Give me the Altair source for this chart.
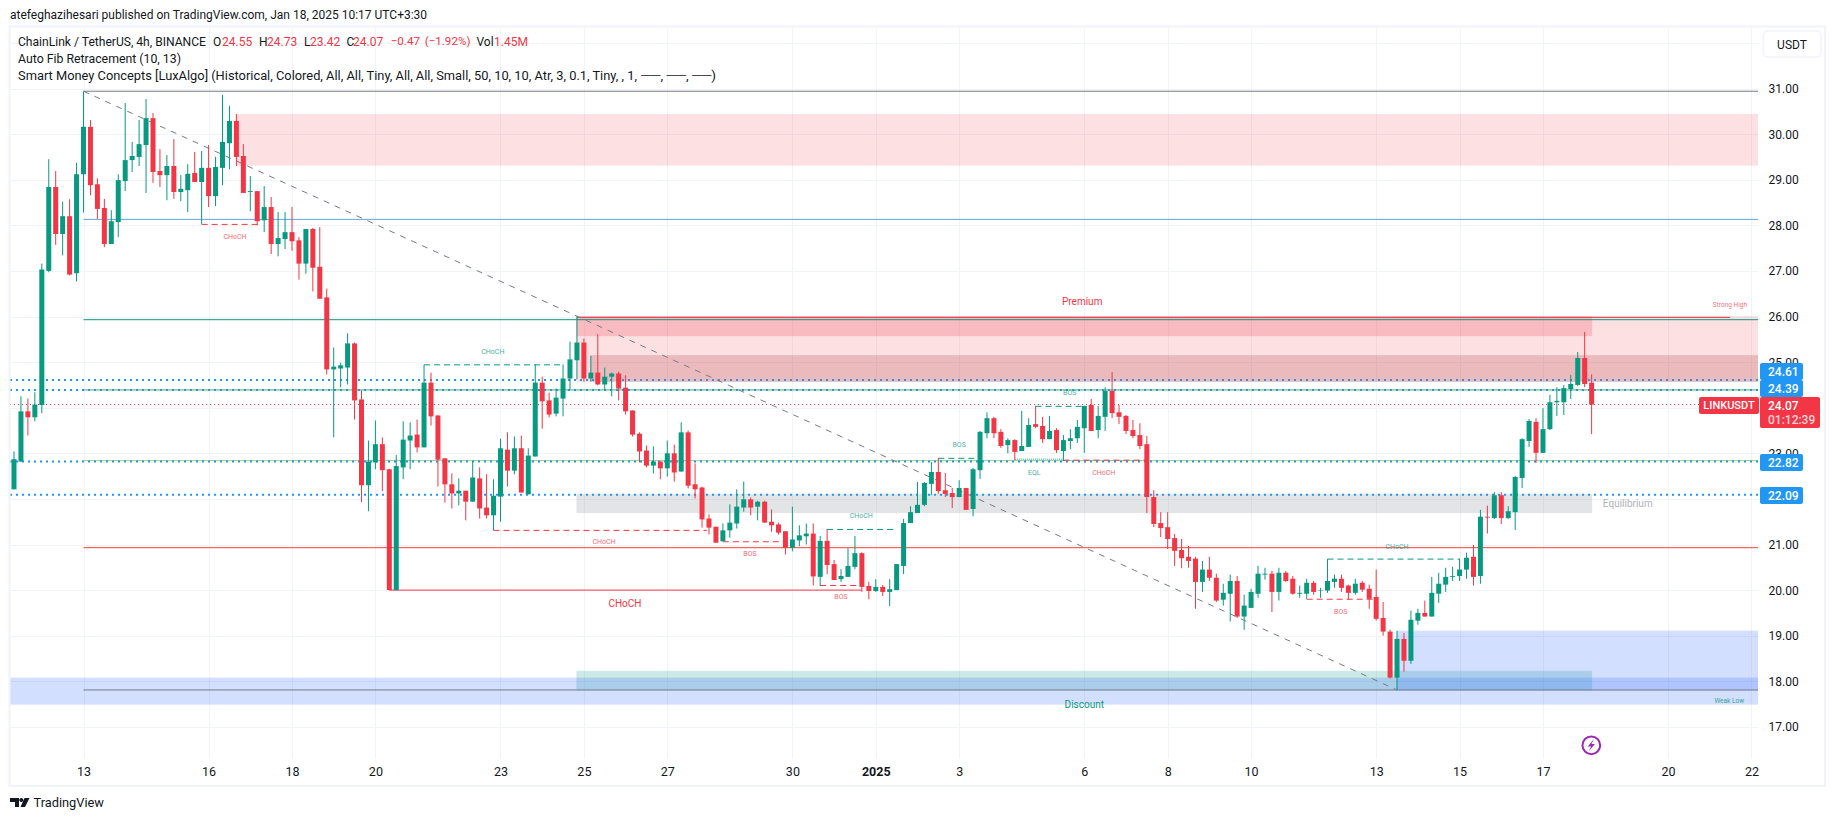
import altair as alt
import pandas as pd

opens = [22.21,22.82,23.92,23.79,24.06,27.00,28.84,27.81,28.20,26.95,
29.12,30.16,28.90,28.38,27.59,28.07,28.97,29.43,29.50,29.76,
30.35,29.19,29.10,29.30,28.73,28.77,29.15,28.95,29.26,28.64,
29.26,29.80,30.29,29.52,28.73,28.75,28.11,28.40,27.59,27.70,
27.85,27.67,27.16,27.92,27.09,26.42,24.84,24.86,24.88,25.41,
24.18,22.30,22.80,23.20,22.65,20.00,22.69,23.28,23.41,23.13,
24.55,23.83,22.89,22.32,22.12,22.18,21.94,22.45,21.81,21.64,
22.05,23.08,22.62,23.11,22.10,22.93,24.55,24.16,23.87,24.20,
24.64,25.04,25.43,24.64,24.77,24.51,24.68,24.75,24.44,23.94,
23.43,23.06,22.73,22.82,22.67,23.00,22.60,23.46,22.32,22.25,
21.57,21.39,21.07,21.31,21.46,21.81,21.99,21.83,21.94,21.50,
21.44,21.29,20.93,21.09,21.18,21.24,20.29,21.08,20.57,20.24,
20.29,20.51,20.81,20.09,19.98,20.07,19.96,20.00,20.53,21.47,
21.69,21.87,22.33,22.59,22.19,22.13,22.04,22.24,21.78,22.63,
23.44,23.77,23.47,23.18,23.29,23.05,23.14,23.64,23.60,23.31,
23.51,23.05,23.27,23.33,23.55,24.06,23.51,23.80,24.37,23.90,
23.82,23.51,23.40,23.20,22.04,21.47,21.38,21.14,20.88,20.73,
20.69,20.18,20.45,20.27,19.79,19.92,20.20,19.42,19.61,19.92,
20.34,20.36,19.96,20.38,20.25,19.92,19.92,20.16,19.99,19.99,
20.18,20.25,20.10,19.94,20.16,20.03,19.85,19.39,19.09,18.08,
18.93,18.45,19.33,19.50,19.42,19.92,20.12,20.29,20.31,20.45,
20.73,20.31,21.61,21.58,22.08,21.58,21.71,22.46,23.27,23.69,
23.01,23.53,24.12,24.12,24.41,24.50,25.09,24.55]

highs = [23.04,24.25,24.20,24.34,27.16,29.45,29.19,28.52,28.57,29.37,
30.93,30.31,29.03,28.58,28.33,29.12,30.68,29.83,30.31,30.77,
30.46,29.67,29.54,29.89,29.10,29.34,29.61,29.63,29.76,29.50,
30.86,30.62,30.44,29.78,29.08,28.75,28.86,28.62,28.29,28.29,
28.40,27.74,27.92,27.94,27.96,26.61,25.32,24.99,25.63,25.43,
24.38,23.28,23.72,23.35,22.66,22.96,23.70,23.68,23.74,24.94,
24.77,23.83,22.89,22.56,22.45,22.18,22.82,22.69,22.54,22.43,
23.32,23.46,23.37,23.39,23.11,24.95,24.68,24.33,24.42,24.95,
25.45,26.00,25.52,25.14,25.61,24.88,24.77,24.79,24.71,23.94,
23.46,23.17,23.15,22.82,23.28,23.19,23.68,23.50,22.78,22.27,
21.66,21.39,21.46,21.88,22.21,22.38,22.03,21.96,21.96,21.77,
21.48,21.29,21.83,21.42,21.46,21.46,21.19,21.34,20.66,20.46,
20.92,21.19,20.83,20.18,20.24,20.11,20.24,20.57,21.56,21.84,
22.37,22.37,22.81,22.90,22.57,22.24,22.41,22.24,22.68,23.49,
23.90,23.80,23.53,23.33,23.31,23.93,23.77,24.04,23.80,23.82,
23.55,23.40,23.53,23.73,24.04,24.19,24.04,24.45,24.78,24.06,
23.84,23.73,23.66,23.38,22.19,21.71,21.71,21.23,21.12,20.97,
20.73,20.64,20.73,20.36,20.14,20.34,20.31,19.90,20.03,20.53,
20.49,20.42,20.49,20.42,20.31,20.10,20.25,20.20,20.05,20.68,
20.34,20.34,20.12,20.25,20.20,20.12,20.45,19.74,19.13,19.11,
19.06,19.55,19.59,19.77,20.29,20.38,20.49,20.51,20.69,20.82,
20.99,21.76,21.85,22.15,22.15,21.84,22.50,23.33,23.75,23.77,
23.99,24.28,24.45,24.50,24.72,25.22,25.66,24.73]

lows = [22.21,22.81,23.39,23.70,23.88,26.97,27.57,27.34,26.90,26.77,
28.28,28.66,28.14,27.52,27.59,27.74,28.75,29.17,29.30,28.71,
28.93,28.84,28.55,28.58,28.53,28.29,28.95,28.03,28.40,28.42,
28.88,29.23,29.30,28.71,28.31,28.00,27.85,27.37,27.32,27.48,
27.44,26.81,26.94,26.55,26.39,24.73,23.35,24.45,24.51,23.74,
21.93,21.73,22.65,22.17,20.00,20.00,22.43,22.65,23.02,23.13,
23.61,22.27,21.92,21.79,21.86,21.53,21.94,21.57,21.57,21.31,
21.50,22.27,22.54,22.14,22.10,22.93,23.54,23.79,23.81,23.81,
24.40,24.62,24.57,24.57,24.49,24.40,24.25,24.16,23.85,23.37,
22.80,22.69,22.56,22.43,22.49,22.38,22.60,22.23,22.01,21.37,
21.22,21.04,21.07,21.15,21.35,21.72,21.64,21.53,21.48,21.28,
21.22,20.78,20.85,20.96,21.00,20.10,20.09,20.35,20.22,20.18,
20.29,20.46,19.96,19.80,19.96,19.87,19.65,20.00,20.35,21.47,
21.69,21.84,22.08,22.11,22.04,21.80,22.04,21.76,21.62,22.44,
23.33,23.33,23.12,23.00,22.85,23.05,23.14,23.55,23.23,23.31,
23.01,22.83,23.09,23.23,23.01,23.49,23.33,23.49,23.77,23.64,
23.42,23.33,23.09,21.69,21.38,21.16,20.90,20.53,20.48,20.49,
19.59,19.96,20.20,19.74,19.66,19.31,19.39,19.13,19.61,19.83,
20.23,19.52,19.77,20.18,19.90,19.83,19.81,19.90,19.83,19.94,
20.05,19.96,19.79,19.90,19.96,19.59,19.33,19.00,18.06,17.81,
18.21,18.38,19.24,19.42,19.42,19.72,19.96,20.20,20.20,20.25,
20.10,20.14,21.24,21.56,21.45,21.56,21.32,22.24,23.14,22.79,
23.01,23.51,23.82,23.84,24.19,24.48,24.45,23.42]

closes = [22.87,23.92,23.79,24.07,27.03,28.84,27.81,28.20,26.92,29.12,
30.16,28.88,28.36,27.59,28.09,28.99,29.43,29.52,29.78,30.35,
29.17,29.10,29.30,28.73,28.80,29.13,28.95,29.26,28.64,29.28,
29.83,30.29,29.50,28.71,28.75,28.09,28.40,27.59,27.72,27.85,
27.65,27.16,27.92,27.07,26.39,24.84,24.90,24.93,25.41,24.16,
22.30,22.82,23.20,22.63,20.00,22.72,23.30,23.39,23.13,24.55,
23.81,22.86,22.32,22.12,22.18,21.94,22.47,21.79,21.64,22.07,
23.11,22.62,23.11,22.14,22.95,24.55,24.14,23.85,24.22,24.64,
25.06,25.43,24.64,24.77,24.51,24.68,24.75,24.42,23.92,23.41,
23.04,22.73,22.82,22.67,23.00,22.58,23.46,22.29,22.21,21.55,
21.37,21.04,21.31,21.48,21.83,21.99,21.81,21.94,21.48,21.42,
21.26,20.93,21.11,21.20,21.24,20.30,21.08,20.55,20.22,20.31,
20.53,20.81,20.07,19.98,20.07,19.96,20.02,20.57,21.47,21.71,
21.87,22.35,22.59,22.17,22.11,22.04,22.24,21.76,22.65,23.47,
23.77,23.44,23.16,23.29,23.03,23.16,23.62,23.58,23.31,23.49,
23.07,23.29,23.33,23.58,24.04,23.49,23.82,24.37,23.88,23.80,
23.49,23.38,23.16,22.04,21.45,21.36,21.12,20.86,20.70,20.64,
20.18,20.45,20.27,19.77,19.94,20.20,19.42,19.66,19.96,20.36,
20.36,19.96,20.38,20.20,19.92,19.94,20.16,19.96,20.00,20.20,
20.25,20.05,19.94,20.14,20.01,19.81,19.37,19.09,18.08,18.93,
18.45,19.35,19.50,19.42,19.94,20.14,20.29,20.31,20.45,20.71,
20.29,21.61,21.59,22.08,21.58,21.73,22.48,23.31,23.71,23.01,
23.53,24.12,24.15,24.43,24.52,25.09,24.52,24.07]

tick_index = [10,28,40,52,70,82,94,112,124,136,154,166,178,196,208,220,238,250]
tick_labels = ["13","16","18","20","23","25","27","30","2025","3","6","8","10","13","15","17","20","22"]
price_ticks = [17,18,19,20,21,22,23,24,25,26,27,28,29,30,31,32]

I_MIN, I_MAX = -0.576, 250.94
P_TOP, P_BOTTOM = 32.327, 16.318

GREEN, RED = "#089981", "#f23645"
PLOT_W, PLOT_H = 1748, 730
ORIGIN_X, ORIGIN_Y = 10, 28
FONT = "Roboto"

# zones drawn in order: start bar, end bar, upper price, lower price, colour, opacity
zone_start = [81, 81, 83, 81, 81, I_MIN, 199, 32]
zone_end = [I_MAX, 227, I_MAX, 227, 227, I_MAX, I_MAX, I_MAX]
zone_upper = [26.00, 26.00, 25.14, 22.10, 18.22, 18.07, 19.10, 30.43]
zone_lower = [24.58, 25.58, 24.58, 21.70, 17.81, 17.50, 17.81, 29.32]
zone_color = [RED, RED, "#a82830", "#787b86", GREEN, "#2962ff", "#2962ff", RED]
zone_alpha = [0.15, 0.21, 0.20, 0.20, 0.20, 0.20, 0.20, 0.15]

# solid levels
level_start = [10, 10, 10, 10, 10, 10, 10, 81, 54]
level_end = [I_MAX, I_MAX, I_MAX, I_MAX, I_MAX, I_MAX, I_MAX, 246.9, 122]
level_price = [30.94, 28.13, 25.93, 24.39, 22.84, 20.93, 17.81, 25.98, 20.00]
level_color = ["#787b86", "#64a5e0", GREEN, "#4caf50", "#9ccc8f", "#f44336", "#787b86", RED, RED]

# dotted horizontal price lines
dotted_prices = [24.61, 24.39, 22.82, 22.09]
last_price = [24.07]

# dashed structure breaks, bearish and bullish
red_break_start = [27, 69, 102, 116, 151, 186]
red_break_end = [35, 99.7, 110.7, 121.7, 163, 195.5]
red_break_price = [28.02, 21.31, 21.06, 20.10, 22.85, 19.80]
green_break_start = [59, 117, 133, 147, 189]
green_break_end = [79, 127, 138.6, 153.8, 208]
green_break_price = [24.94, 21.33, 22.89, 24.03, 20.68]

eql_start, eql_end, eql_price = [144], [151], [22.87]
diag_i, diag_i2, diag_p, diag_p2 = [10], [199], [30.94], [17.81]

# labels in the plot
note_text = ["CHoCH","CHoCH","CHoCH","BOS","CHoCH","CHoCH","BOS","BOS","BOS","EQL","CHoCH","CHoCH","BOS",
             "Premium","Equilibrium","Discount","Strong High","Weak Low"]
note_i = [31.8,68.9,84.9,105.9,87.9,121.9,119,136,151.9,146.8,156.8,199,190.9,153.7,232.2,154,246.9,246.8]
note_p = [27.75,25.22,21.06,20.79,19.69,21.63,19.85,23.18,24.32,22.57,22.57,20.95,19.52,26.32,21.89,17.48,26.26,17.56]
note_color = [RED,GREEN,RED,RED,RED,GREEN,RED,GREEN,GREEN,GREEN,RED,GREEN,RED,RED,"#9598a1",GREEN,RED,GREEN]
note_size = [7,7,7,7,10,7,7,7,7,7,7,7,7,10,10,10,6.5,6.5]
note_alpha = [.75,.75,.75,.75,1,.75,.75,.75,.75,.75,.75,.75,.75,1,.75,1,.7,.8]

x_scale = alt.Scale(domain=[I_MIN, I_MAX], nice=False, zero=False, padding=0)
y_scale = alt.Scale(domain=[P_BOTTOM, P_TOP], nice=False, zero=False, padding=0)
ticks_js = "[" + ",".join(map(str, tick_index)) + "]"
labels_js = "[" + ",".join("'%s'" % t for t in tick_labels) + "]"
x_axis = alt.Axis(values=tick_index, labelExpr=f"{labels_js}[indexof({ticks_js},datum.value)]",
                  title=None, domain=False, ticks=False, grid=True, gridColor="#f0f3fa",
                  labelFont=FONT, labelFontSize=12.5, labelColor="#131722", labelPadding=7,
                  labelOverlap=False, labelFlush=False,
                  labelFontWeight=alt.expr("datum.value == 124 ? 'bold' : 'normal'"))
y_axis = alt.Axis(values=price_ticks, orient="right", format=".2f", title=None, domain=False, ticks=False,
                  grid=True, gridColor="#f0f3fa", labelFont=FONT, labelFontSize=12, labelColor="#131722",
                  labelPadding=10, labelOverlap=False, labelFlush=False, labelAlign="left")


def X(f):
    return alt.X(f, type="quantitative", scale=x_scale, axis=x_axis)


def Y(f):
    return alt.Y(f, type="quantitative", scale=y_scale, axis=y_axis)


layers = []

zones = pd.DataFrame(dict(a=zone_start, b=zone_end, u=zone_upper, l=zone_lower, c=zone_color, o=zone_alpha))
layers.append(alt.Chart(zones).mark_rect(strokeWidth=1, clip=True).encode(
    x=X("a"), x2="b", y=Y("u"), y2="l",
    fill=alt.Fill("c:N", scale=None), stroke=alt.Stroke("c:N", scale=None),
    opacity=alt.Opacity("o:Q", scale=None), order=alt.Order("n:Q")).transform_window(n="row_number()"))

levels = pd.DataFrame(dict(a=level_start, b=level_end, p=level_price, c=level_color))
layers.append(alt.Chart(levels).mark_rule(strokeWidth=1).encode(
    x=X("a"), x2="b", y=Y("p"), color=alt.Color("c:N", scale=None)))

dots = pd.DataFrame(dict(p=dotted_prices, a=I_MIN, b=I_MAX))
layers.append(alt.Chart(dots).mark_rule(strokeWidth=2, strokeDash=[2, 4], color="#2196f3").encode(
    x=X("a"), x2="b", y=Y("p")))
last = pd.DataFrame(dict(p=last_price, a=I_MIN, b=I_MAX))
layers.append(alt.Chart(last).mark_rule(strokeWidth=1, strokeDash=[1, 3], color=RED).encode(
    x=X("a"), x2="b", y=Y("p")))

red_breaks = pd.DataFrame(dict(a=red_break_start, b=red_break_end, p=red_break_price))
layers.append(alt.Chart(red_breaks).mark_rule(strokeWidth=1, strokeDash=[6, 4], color=RED).encode(
    x=X("a"), x2="b", y=Y("p")))
green_breaks = pd.DataFrame(dict(a=green_break_start, b=green_break_end, p=green_break_price))
layers.append(alt.Chart(green_breaks).mark_rule(strokeWidth=1, strokeDash=[6, 4], color=GREEN).encode(
    x=X("a"), x2="b", y=Y("p")))
eql = pd.DataFrame(dict(a=eql_start, b=eql_end, p=eql_price))
layers.append(alt.Chart(eql).mark_rule(strokeWidth=1.5, strokeDash=[1, 1], color=GREEN, opacity=0.6).encode(
    x=X("a"), x2="b", y=Y("p")))
diag = pd.DataFrame(dict(a=diag_i, b=diag_i2, p=diag_p, q=diag_p2))
layers.append(alt.Chart(diag).mark_rule(strokeWidth=1, strokeDash=[6, 6], color="#787b86").encode(
    x=X("a"), x2="b", y=Y("p"), y2="q"))

bars = pd.DataFrame(dict(i=range(len(opens)), o=opens, h=highs, l=lows, c=closes))
bars["col"] = [GREEN if c >= o else RED for o, c in zip(opens, closes)]
layers.append(alt.Chart(bars).mark_rule(strokeWidth=1).encode(
    x=X("i"), y=Y("l"), y2="h", color=alt.Color("col:N", scale=None)))
layers.append(alt.Chart(bars).mark_bar(size=5).encode(
    x=X("i"), y=Y("o"), y2="c", color=alt.Color("col:N", scale=None)))

notes = pd.DataFrame(dict(t=note_text, i=note_i, p=note_p, c=note_color, s=note_size, o=note_alpha))
layers.append(alt.Chart(notes).mark_text(font=FONT, baseline="middle", align="center").encode(
    x=X("i"), y=Y("p"), text="t:N", color=alt.Color("c:N", scale=None),
    size=alt.Size("s:Q", scale=None), opacity=alt.Opacity("o:Q", scale=None)))

one = pd.DataFrame({"k": [0]})


def box(x0, x1, y0, y1, fill="transparent", stroke="transparent", sw=0, radius=0):
    return alt.Chart(one).mark_rect(fill=fill, stroke=stroke, strokeWidth=sw, cornerRadius=radius, clip=False).encode(
        x=alt.value(x0 - ORIGIN_X), x2=alt.value(x1 - ORIGIN_X),
        y=alt.value(y0 - ORIGIN_Y), y2=alt.value(y1 - ORIGIN_Y))


def label(text, x, y, color="#131722", size=12, align="left", weight="normal"):
    return alt.Chart(one).mark_text(text=text, font=FONT, fontSize=size, color=color, align=align,
                                    baseline="middle", fontWeight=weight, clip=False).encode(
        x=alt.value(x - ORIGIN_X), y=alt.value(y - ORIGIN_Y))


def icon(path, x, y, size, fill="transparent", stroke="transparent", sw=0):
    return alt.Chart(one).mark_point(shape=path, size=size, fill=fill, stroke=stroke, strokeWidth=sw,
                                     opacity=1, filled=fill != "transparent").encode(
        x=alt.value(x - ORIGIN_X), y=alt.value(y - ORIGIN_Y))


BLUE = "#2196f3"
layers += [
    box(9.5, 1825, 26.5, 786, stroke="#f0f3fa", sw=2),
    box(1763.5, 1821, 31, 57, fill="#ffffff", stroke="#f0f3fa", sw=1.5, radius=4),
    label("USDT", 1792, 44.5, align="center", size=12),
    box(1760, 1803, 363, 380, fill=BLUE, radius=2),
    label("24.61", 1768, 372, "#ffffff", 12, weight=500),
    box(1760, 1803, 380, 397, fill=BLUE, radius=2),
    label("24.39", 1768, 389, "#ffffff", 12, weight=500),
    box(1699, 1759, 397, 414, fill=RED, radius=2),
    label("LINKUSDT", 1729, 405.5, "#ffffff", 11, "center", 500),
    box(1760, 1820, 397, 428, fill=RED, radius=2),
    label("24.07", 1768, 405.5, "#ffffff", 12, weight=500),
    label("01:12:39", 1768, 420, "#fcd5d8", 12, weight=500),
    box(1760, 1803, 454, 471, fill=BLUE, radius=2),
    label("22.82", 1768, 462.5, "#ffffff", 12, weight=500),
    box(1760, 1803, 487, 504, fill=BLUE, radius=2),
    label("22.09", 1768, 495.5, "#ffffff", 12, weight=500),
    label("atefeghazihesari published on TradingView.com, Jan 18, 2025 10:17 UTC+3:30", 10, 15, size=12),
    label("ChainLink / TetherUS, 4h, BINANCE", 18, 42, size=12.1),
    label("O", 213, 42), label("24.55", 222, 42, RED),
    label("H", 259, 42), label("24.73", 267, 42, RED),
    label("L", 304, 42), label("23.42", 310, 42, RED),
    label("C", 346.5, 42), label("24.07", 353, 42, RED),
    label("\u22120.47", 390.7, 42, RED, 11.6),
    label("(\u22121.92%)", 424.7, 42, RED, 11.6),
    label("Vol", 476.5, 42), label("1.45M", 494, 42, RED),
    label("Auto Fib Retracement (10, 13)", 18, 59, size=12.3),
    label("Smart Money Concepts [LuxAlgo] (Historical, Colored, All, All, Tiny, All, All, Small, 50, 10, 10, "
          "Atr, 3, 0.1, Tiny, , 1,", 18, 76, size=12.85),
    label("\u2500\u2500, \u2500\u2500, \u2500\u2500)", 641, 76, size=13.7),
    icon("circle", 1591.3, 745.3, 314, stroke="#9c27b0", sw=2),
    icon("M0.3,-0.7 L-0.4,0.14 L-0.02,0.14 L-0.3,0.7 L0.4,-0.14 L0.02,-0.14 Z", 1591.3, 745.3, 314,
         fill="#9c27b0"),
    icon("M-.95,-.45 L-.05,-.45 L-.05,.45 L-.45,.45 L-.45,-.05 L-.95,-.05 Z "
         "M-.02,-.25 a.2,.2 0 1,0 .4,0 a.2,.2 0 1,0 -.4,0 Z M.5,-.45 L1,-.45 L.55,.45 L.1,.45 Z",
         19.5, 802.5, 400, fill="#131722"),
    label("TradingView", 33.5, 803, size=12.8),
]

chart = alt.layer(*layers).resolve_scale(color="independent").properties(
    width=PLOT_W, height=PLOT_H,
    padding={"left": 2, "top": 20, "right": 69, "bottom": 55},
    autosize=alt.AutoSizeParams(type="none"),
    background="#ffffff",
).configure_view(stroke=None)

chart.save("out.html", embed_options={"renderer": "svg", "actions": False})
